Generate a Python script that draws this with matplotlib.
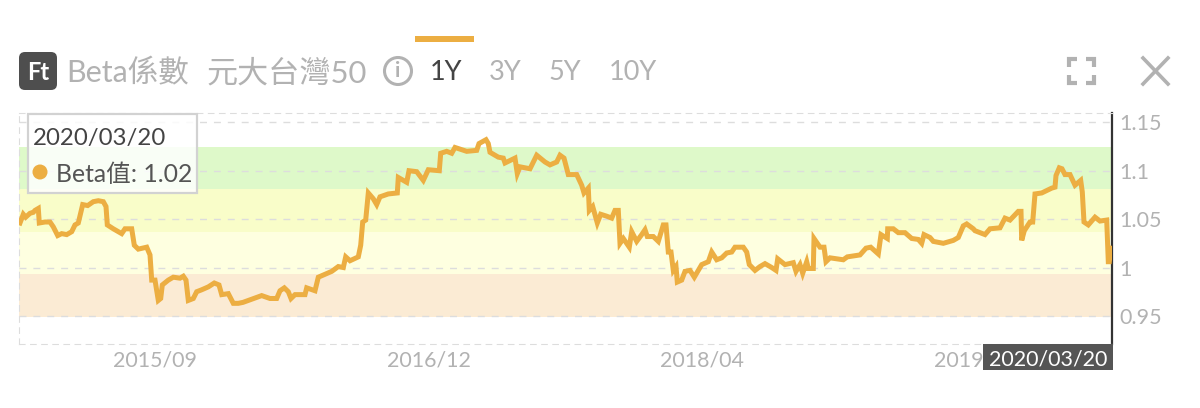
import matplotlib
matplotlib.use('Agg')
import matplotlib.pyplot as plt
from matplotlib.patches import FancyBboxPatch, Rectangle, Circle

plt.rcParams['font.family'] = ['Lato', 'Noto Sans CJK TC', 'DejaVu Sans']

# trading session index along the x axis, and the Beta value at that session
sessions = [1, 4.3, 6.7, 11, 14.3, 16, 19.3, 20.3, 26, 31, 34.3, 38.7, 42.7, 47.7, 52.7, 56, 59.3, 63.7, 68.7, 74.3,
            79.3, 84.3, 87, 88.3, 94.3, 102.7, 106, 112.7, 115.3, 119.3, 127.7, 131, 132.7, 136, 139.3, 141.7, 143.3, 149.3, 154.3, 161,
            164.3, 167, 169.3, 174.3, 177.7, 182.7, 189.3, 195.3, 200, 202.7, 209.3, 214.3, 219.3, 224, 229.3, 234.3, 242.7, 251, 257.7, 261,
            265.3, 269.3, 272, 276, 286, 287.7, 296, 299.3, 306, 312.7, 319.3, 324.3, 326.7, 331, 339.3, 341.7, 343.7, 346.7, 349.3, 354.3,
            357.7, 361, 369.3, 378.3, 379.3, 384.3, 387.7, 390, 397.7, 404.3, 409.3, 420.3, 421.7, 427.7, 432.7, 436, 447.7, 457.7, 460, 467,
            469.3, 471, 479.3, 484.3, 486, 496, 498.3, 501, 511, 517.7, 526, 531, 537.7, 541, 545, 549.3, 557.7, 562.7, 565, 569.3,
            570.3, 573.7, 578.3, 581.7, 587.7, 592.7, 596, 599.3, 601, 604.3, 610.3, 612.7, 617.7, 622.7, 626, 628.3, 634.3, 639.3, 644.3, 647,
            649.3, 652, 654.3, 657, 658.3, 662.7, 666, 671, 675.3, 682.7, 689.3, 692.7, 697.7, 702.7, 707.7, 712.7, 716, 724.3, 727.7, 730.3,
            736, 741, 746, 752.7, 757, 758.7, 766, 774.3, 777, 781, 783.7, 787.7, 789.3, 794.3, 795, 801, 805, 807, 811, 824.3,
            828.3, 841, 847, 851.7, 859.3, 862, 868.3, 868.7, 874.3, 879.3, 886, 892.7, 899.3, 902.7, 905, 911, 914.3, 924.3, 934.3, 939.3,
            944.3, 947.7, 954.3, 956, 966, 971, 981, 986, 991, 999.3, 1002, 1002.7, 1005.3, 1011, 1013.7, 1016, 1022.7, 1032.7, 1036, 1037,
            1040.3, 1043, 1046, 1051, 1056, 1061.7, 1063.3, 1065, 1069.3, 1076, 1081, 1087.7, 1089.3, 1090.3, 1091.7]
beta = [1.046, 1.055, 1.052, 1.056, 1.057, 1.059, 1.061, 1.046, 1.047, 1.047, 1.042, 1.033, 1.035, 1.034, 1.037, 1.044, 1.046, 1.065, 1.064, 1.068,
        1.069, 1.068, 1.063, 1.044, 1.040, 1.035, 1.040, 1.040, 1.023, 1.019, 1.021, 1.013, 0.987, 0.987, 0.966, 0.968, 0.982, 0.987, 0.990, 0.989,
        0.991, 0.987, 0.966, 0.968, 0.975, 0.977, 0.980, 0.984, 0.982, 0.972, 0.973, 0.963, 0.963, 0.964, 0.966, 0.968, 0.971, 0.968, 0.968, 0.976,
        0.979, 0.975, 0.968, 0.972, 0.972, 0.979, 0.976, 0.990, 0.993, 0.996, 1.001, 1.000, 1.011, 1.007, 1.011, 1.023, 1.047, 1.049, 1.077, 1.071,
        1.065, 1.073, 1.076, 1.077, 1.093, 1.090, 1.088, 1.100, 1.099, 1.090, 1.101, 1.100, 1.118, 1.120, 1.118, 1.124, 1.120, 1.121, 1.128, 1.132,
        1.128, 1.119, 1.114, 1.113, 1.108, 1.113, 1.097, 1.104, 1.102, 1.116, 1.109, 1.106, 1.109, 1.116, 1.113, 1.096, 1.096, 1.085, 1.077, 1.082,
        1.059, 1.063, 1.046, 1.055, 1.053, 1.051, 1.059, 1.059, 1.025, 1.030, 1.021, 1.037, 1.027, 1.034, 1.039, 1.032, 1.032, 1.027, 1.044, 1.044,
        1.016, 1.016, 0.997, 1.001, 0.985, 0.987, 0.996, 0.997, 0.990, 1.003, 1.006, 1.016, 1.008, 1.010, 1.015, 1.016, 1.021, 1.021, 1.016, 1.003,
        0.997, 1.001, 1.004, 1.000, 0.997, 1.009, 1.003, 1.005, 0.996, 1.003, 0.994, 1.006, 0.999, 0.999, 1.030, 1.021, 1.021, 1.006, 1.010, 1.008,
        1.011, 1.013, 1.020, 1.021, 1.014, 1.034, 1.030, 1.040, 1.040, 1.036, 1.036, 1.030, 1.029, 1.025, 1.034, 1.031, 1.027, 1.025, 1.028, 1.031,
        1.043, 1.045, 1.040, 1.038, 1.034, 1.040, 1.041, 1.051, 1.049, 1.058, 1.058, 1.028, 1.038, 1.047, 1.047, 1.076, 1.077, 1.082, 1.083, 1.095,
        1.103, 1.102, 1.096, 1.096, 1.085, 1.090, 1.078, 1.047, 1.044, 1.052, 1.048, 1.049, 1.006, 1.006, 1.020]

y_ticks = [0.95, 1.0, 1.05, 1.1, 1.15]
y_labels = ['0.95', '1', '1.05', '1.1', '1.15']
x_ticks = [136, 410, 683, 957]
x_labels = ['2015/09', '2016/12', '2018/04', '2019/08']
band_edges = [0.949, 0.9933, 1.037, 1.0816, 1.1245]
band_colors = ['#fbebd4', '#feffe0', '#f9fdc9', '#def9c9']

LINE = '#ecae42'
GREY = '#b2b2b2'

fig = plt.figure(figsize=(12, 4.08), dpi=100)
ax = fig.add_axes([19 / 1200, 1 - 344 / 408, (1112 - 19) / 1200, (344 - 113) / 408])
ax.set_xlim(0, 1093)
ax.set_ylim(0.921, 1.1596)

for i in range(len(band_colors)):
    ax.axhspan(band_edges[i], band_edges[i + 1], color=band_colors[i], lw=0, zorder=0)
ax.plot(sessions, beta, color=LINE, lw=3.6, solid_joinstyle='miter', zorder=3)

ax.set_yticks(y_ticks)
ax.set_yticklabels(y_labels, color=GREY, fontsize=15.5)
ax.yaxis.tick_right()
ax.set_xticks(x_ticks)
ax.set_xticklabels(x_labels, color=GREY, fontsize=15.4)
ax.tick_params(axis='both', length=0)
ax.tick_params(axis='y', pad=5)
ax.tick_params(axis='x', pad=4.5)
ax.grid(axis='y', color='#dddddd', ls=(0, (5, 5)), lw=1, zorder=1)
ax.set_axisbelow(False)
for side in ['top', 'bottom', 'left']:
    ax.spines[side].set_color('#dddddd')
    ax.spines[side].set_linestyle((0, (5, 5)))
ax.spines['right'].set_color('#333333')
ax.spines['right'].set_linewidth(1.6)

# header, tooltip and buttons, placed in pixels of the page
ui = fig.add_axes([0, 0, 1, 1], facecolor='none', zorder=5)
ui.set_xlim(0, 1200)
ui.set_ylim(408, 0)
ui.axis('off')

ui.add_patch(Rectangle((415, 36), 59, 5.5, color=LINE, lw=0))
ui.add_patch(FancyBboxPatch((23, 56), 30, 30, boxstyle='round,pad=4,rounding_size=6', fc='#4e4e4e', ec='none'))
ui.text(38, 72, 'Ft', color='white', fontsize=17, fontweight='bold', ha='center', va='center')
ui.text(66, 73, 'Beta係數', color=GREY, fontsize=22, va='center')
ui.text(206, 73, '元大台灣50', color=GREY, fontsize=22.4, va='center')
ui.add_patch(Circle((398, 71), 13.5, fc='none', ec=GREY, lw=2.2))
ui.text(398, 71, 'i', color=GREY, fontsize=15, fontweight='bold', ha='center', va='center')
ui.text(430, 73, '1Y', color='#444444', fontsize=19.5, va='center')
ui.text(489, 73, '3Y', color=GREY, fontsize=19.5, va='center')
ui.text(548, 73, '5Y', color=GREY, fontsize=19.5, va='center')
ui.text(609, 73, '10Y', color=GREY, fontsize=19.5, va='center')

# expand icon corners
for cx, cy, dx, dy in [(1069, 59, 1, 1), (1094, 59, -1, 1), (1069, 83, 1, -1), (1094, 83, -1, -1)]:
    ui.plot([cx + dx * 8, cx, cx], [cy, cy, cy + dy * 8], color=GREY, lw=3, solid_capstyle='butt', solid_joinstyle='miter')
ui.plot([1143, 1168], [58, 84], color=GREY, lw=2.6)
ui.plot([1143, 1168], [84, 58], color=GREY, lw=2.6)

ui.add_patch(Rectangle((28, 114), 169, 79, fc=(1, 1, 1, 0.85), ec='#d2d2d2', lw=1.6))
ui.text(33, 138, '2020/03/20', color='#444444', fontsize=17.3, va='center')
ui.add_patch(Circle((40, 172), 7.5, fc=LINE, ec='none'))
ui.text(56, 174, 'Beta值: 1.02', color='#555555', fontsize=17.8, va='center')

ui.add_patch(Rectangle((983, 344), 130, 26, fc='#555555', ec='none'))
ui.text(1048, 359, '2020/03/20', color='white', fontsize=15.4, ha='center', va='center')

fig.savefig('out.png', dpi=100)
